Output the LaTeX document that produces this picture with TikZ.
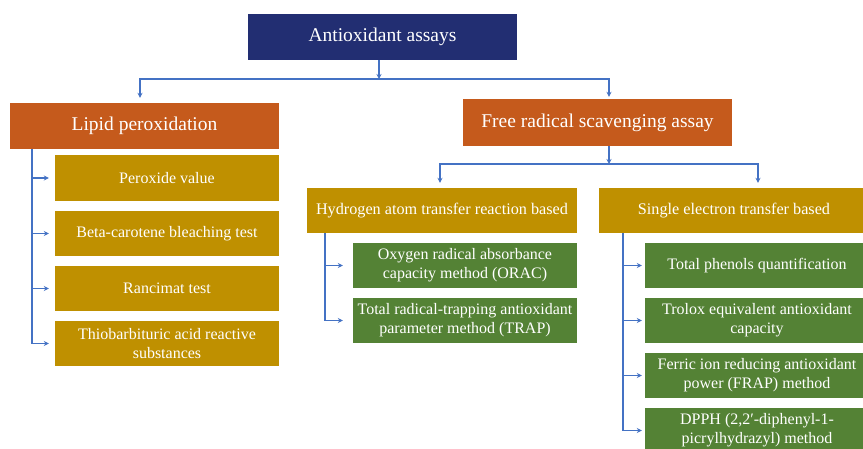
\documentclass[tikz,border=0pt]{standalone}
\usepackage{fontspec}
\setmainfont{Liberation Serif}
\usetikzlibrary{arrows.meta,calc}
\definecolor{navy}{HTML}{222E72}
\definecolor{rust}{HTML}{C55A1C}
\definecolor{gold}{HTML}{BF9000}
\definecolor{leaf}{HTML}{548235}
\definecolor{wire}{HTML}{4472C4}

\begin{document}
\begin{tikzpicture}[x=1pt,y=-1pt,
  box/.style={draw=none, text=white, align=center, inner sep=0pt, anchor=center},
  head/.style={box, minimum width=269pt, minimum height=46pt, font=\fontsize{19.5}{23}\selectfont},
  sub/.style={box, fill=gold, minimum width=270pt, minimum height=45pt, font=\fontsize{16.2}{19}\selectfont},
  item/.style={box, minimum width=224pt, minimum height=45pt, font=\fontsize{16}{19}\selectfont},
  golditem/.style={item, fill=gold},
  greenitem/.style={item, fill=leaf},
  link/.style={draw=wire, line width=1.2pt},
  arr/.style={link, -{Stealth[length=5pt,width=5pt]}}]

\useasboundingbox (0,0) rectangle (863,449);
\clip (0,0) rectangle (863,449);

% top level
\node[head, fill=navy] (root) at (382.5,37) {Antioxidant assays};
\node[head, fill=rust] (lipid) at (144.5,126) {Lipid peroxidation};
\node[head, fill=rust, minimum height=47pt] (free) at (597.5,122.5) {Free radical scavenging assay};

% second level under free radical scavenging
\node[sub] (hat) at (442,210.5) {Hydrogen atom transfer reaction based};
\node[sub] (set) at (734,210.5) {Single electron transfer based};

% lipid peroxidation assays
\node[golditem, minimum height=46pt] (perox) at (167,178) {Peroxide value};
\node[golditem] (beta) at (167,233.5) {Beta-carotene bleaching test};
\node[golditem] (ranc) at (167,288.5) {Rancimat test};
\node[golditem] (thio) at (167,343.5) {Thiobarbituric acid reactive\\substances};

% hydrogen atom transfer assays
\node[greenitem] (orac) at (465,265.5) {Oxygen radical absorbance\\capacity method (ORAC)};
\node[greenitem] (trap) at (465,320.5) {Total radical-trapping antioxidant\\parameter method (TRAP)};

% single electron transfer assays
\node[greenitem] (phen) at (757,265.5) {Total phenols quantification};
\node[greenitem] (teac) at (757,320.5) {Trolox equivalent antioxidant\\capacity};
\node[greenitem] (frap) at (757,375.5) {Ferric ion reducing antioxidant\\power (FRAP) method};
\node[greenitem] (dpph) at (757,430.5) {DPPH (2,2′-diphenyl-1-\\picrylhydrazyl) method};

% junctions and trunks
\coordinate (j1) at (379,79);
\coordinate (j2) at (609,164);
\coordinate (tL) at (32,0);
\coordinate (tH) at (325,0);
\coordinate (tS) at (623,0);

% root to first level
\draw[arr] (root.south -| j1) -- (j1);
\draw[arr] (j1) -| ([xshift=-4.5pt,yshift=5pt]lipid.north);
\draw[arr] (j1) -| ([xshift=11.5pt,yshift=2pt]free.north);

% free radical to second level
\draw[arr] (free.south -| j2) -- (j2);
\draw[arr] (j2) -| ([xshift=-2pt,yshift=5pt]hat.north);
\draw[arr] (j2) -| ([xshift=24pt,yshift=5pt]set.north);

% lipid peroxidation branches
\foreach \t in {perox,beta,ranc,thio}
  \draw[arr] (lipid.south -| tL) |- ([xshift=-6pt]\t.west);

% hydrogen atom transfer branches
\foreach \t in {orac,trap}
  \draw[arr] (hat.south -| tH) |- ([xshift=-10pt]\t.west);

% single electron transfer branches
\foreach \t in {phen,teac,frap,dpph}
  \draw[arr] (set.south -| tS) |- ([xshift=-3pt]\t.west);
\end{tikzpicture}
\end{document}
